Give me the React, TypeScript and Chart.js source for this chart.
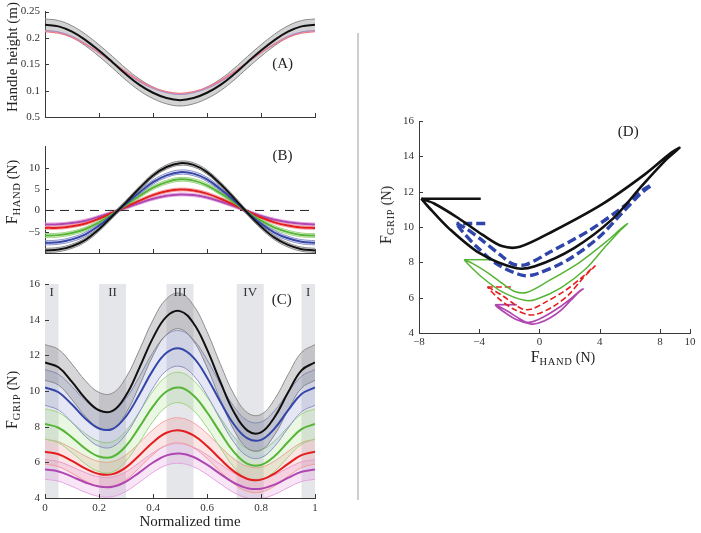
import React, { useEffect, useRef } from 'react';
import { Chart, registerables } from 'chart.js';
Chart.register(...registerables);

const SERIF = '"Liberation Serif", "Times New Roman", serif';

// ---------- shared time axis ----------
const tTime = [0, 0.05, 0.1, 0.15, 0.2, 0.25, 0.3, 0.35, 0.4, 0.45, 0.5, 0.55, 0.6, 0.65, 0.7, 0.75, 0.8, 0.85, 0.9, 0.95, 1];
const timeTicks = [0, 0.2, 0.4, 0.6, 0.8, 1];

// ---------- panel A: handle height (m) ----------
const aBlack = [0.225, 0.222, 0.212, 0.196, 0.176, 0.154, 0.131, 0.111, 0.096, 0.086, 0.082, 0.086, 0.096, 0.111, 0.131, 0.154, 0.176, 0.196, 0.212, 0.222, 0.225];
const aPink = [0.212, 0.209, 0.201, 0.188, 0.172, 0.154, 0.136, 0.119, 0.106, 0.098, 0.095, 0.098, 0.106, 0.119, 0.136, 0.154, 0.172, 0.188, 0.201, 0.209, 0.212];
const aPurple = [0.214, 0.211, 0.203, 0.189, 0.172, 0.153, 0.134, 0.117, 0.104, 0.096, 0.093, 0.096, 0.104, 0.117, 0.134, 0.153, 0.172, 0.189, 0.203, 0.211, 0.214];
const aSd = [0.011];
const aYTicks = [0.05, 0.1, 0.15, 0.2, 0.25];
const aYTickLabels = ['0.5', '0.1', '0.15', '0.2', '0.25'];

// ---------- panel B: F_HAND (N) ----------
const bBlack = [-9.4, -9.2, -8.4, -6.9, -4.4, -1.3, 1.9, 5.2, 8.2, 10.2, 11.1, 10.7, 9.0, 6.2, 2.9, -0.6, -3.8, -6.4, -8.1, -9.1, -9.4];
const bBlue = [-7.6, -7.45, -6.8, -5.6, -3.55, -1.05, 1.55, 4.2, 6.65, 8.25, 9.0, 8.65, 7.3, 5.0, 2.35, -0.5, -3.1, -5.2, -6.55, -7.35, -7.6];
const bGreen = [-5.9, -5.8, -5.3, -4.35, -2.8, -0.8, 1.25, 3.4, 5.35, 6.65, 7.3, 7.0, 5.9, 4.05, 1.9, -0.4, -2.4, -4.05, -5.1, -5.75, -5.9];
const bRed = [-4.1, -4.05, -3.7, -3.05, -1.95, -0.55, 0.85, 2.3, 3.6, 4.5, 4.9, 4.7, 3.95, 2.75, 1.3, -0.25, -1.65, -2.8, -3.55, -4.0, -4.1];
const bPurple = [-3.3, -3.25, -2.95, -2.4, -1.5, -0.45, 0.65, 1.75, 2.75, 3.45, 3.75, 3.6, 3.05, 2.1, 1.0, -0.2, -1.3, -2.2, -2.8, -3.15, -3.3];
const bSd = [0.5, 0.5, 0.45, 0.35, 0.35];
const bYTicks = [-5, 0, 5, 10];
const bZero = [0, 0];

// ---------- panel C: F_GRIP (N) ----------
const cBlack = [11.6, 11.33, 10.51, 9.57, 8.92, 8.88, 9.76, 11.31, 12.98, 14.17, 14.48, 13.8, 12.33, 10.49, 8.81, 7.78, 7.68, 8.53, 9.91, 11.16, 11.6];
const cBlue = [10.2, 9.93, 9.24, 8.45, 7.9, 7.87, 8.58, 9.82, 11.17, 12.14, 12.38, 11.87, 10.76, 9.38, 8.12, 7.34, 7.26, 7.89, 8.91, 9.83, 10.2];
const cGreen = [8.15, 7.94, 7.39, 6.76, 6.33, 6.31, 6.92, 7.99, 9.14, 9.97, 10.19, 9.75, 8.81, 7.65, 6.57, 5.91, 5.85, 6.34, 7.14, 7.86, 8.15];
const cRed = [6.6, 6.45, 6.08, 5.65, 5.35, 5.34, 5.72, 6.4, 7.13, 7.66, 7.79, 7.51, 6.92, 6.17, 5.49, 5.07, 5.03, 5.37, 5.91, 6.4, 6.6];
const cPurple = [5.6, 5.49, 5.2, 4.87, 4.64, 4.63, 4.92, 5.44, 5.99, 6.39, 6.49, 6.3, 5.87, 5.34, 4.85, 4.55, 4.52, 4.75, 5.13, 5.47, 5.6];
const cSd = [1.0, 1.0, 0.85, 0.7, 0.55];
const cYTicks = [4, 6, 8, 10, 12, 14, 16];
const phaseStart = [0, 0.2, 0.45, 0.71, 0.95];
const phaseEnd = [0.05, 0.3, 0.55, 0.81, 1];
const phaseLabels = ['I', 'II', 'III', 'IV', 'I'];

// ---------- panel D: F_GRIP vs F_HAND ----------
const dBlackX = [-7.85, -7.0, -5.4, -3.8, -2.5, -1.3, 0.9, 4.2, 7.0, 8.7, 9.3, 8.4, 6.8, 4.9, 2.3, -0.3, -1.6, -4.0, -6.0, -7.4, -7.85];
const dBlueX = [-5.5, -4.9, -3.8, -2.65, -1.75, -0.9, 0.7, 3.35, 5.6, 6.95, 7.45, 6.7, 5.45, 3.9, 1.85, -0.2, -1.1, -2.8, -4.2, -5.2, -5.5];
const dGreenX = [-5.0, -4.45, -3.4, -2.4, -1.6, -0.8, 0.55, 2.65, 4.4, 5.5, 5.85, 5.3, 4.3, 3.1, 1.45, -0.2, -1.0, -2.5, -3.8, -4.7, -5.0];
const dRedX = [-3.45, -3.1, -2.4, -1.7, -1.1, -0.55, 0.35, 1.7, 2.8, 3.5, 3.7, 3.35, 2.7, 1.95, 0.9, -0.15, -0.7, -1.75, -2.65, -3.25, -3.45];
const dPurpleX = [-2.95, -2.65, -2.05, -1.45, -0.95, -0.5, 0.3, 1.3, 2.15, 2.7, 2.9, 2.6, 2.1, 1.5, 0.7, -0.1, -0.6, -1.5, -2.25, -2.8, -2.95];
const dStartX = [-3.9, -3.6, -3.1, -1.9, -1.5];
const dXTicks = [-8, -4, 0, 4, 8, 10];
const dYTicks = [4, 6, 8, 10, 12, 14, 16];

// ---------- styles ----------
const COL = { black: '#111111', blue: '#3446a8', green: '#56b536', red: '#e41e1e', purple: '#b046b2' };
const BAND = {
  black: ['rgba(120,120,125,0.30)', '#8c8c8c'],
  blue: ['rgba(110,120,200,0.18)', '#8d94c6'],
  green: ['rgba(140,210,100,0.18)', '#a0d386'],
  red: ['rgba(240,110,110,0.18)', '#f2a2a2'],
  purple: ['rgba(225,140,220,0.22)', '#e4a8e1'],
};

type Pt = { x: number; y: number };
const pts = (xs: number[], ys: number[]): Pt[] => xs.map((x, i) => ({ x, y: ys[i] }));
const fmt = (v: number) => (v < 0 ? '\u2212' + Math.abs(v) : String(v));

function line(data: Pt[], color: string, width: number, extra: any = {}) {
  return { data, borderColor: color, borderWidth: width, pointRadius: 0, tension: 0.4, fill: false, ...extra };
}
function band(mean: number[], sd: number, fillColor: string, edge: string) {
  return [
    { data: pts(tTime, mean.map((v) => v + sd)), borderColor: edge, borderWidth: 1, pointRadius: 0, tension: 0.4, fill: '+1', backgroundColor: fillColor },
    { data: pts(tTime, mean.map((v) => v - sd)), borderColor: edge, borderWidth: 1, pointRadius: 0, tension: 0.4, fill: false },
  ];
}

function axis(min: number, max: number, ticks: number[], o: any) {
  return {
    type: 'linear',
    min,
    max,
    afterBuildTicks: (s: any) => {
      s.ticks = ticks.map((v) => ({ value: v }));
    },
    afterFit: (s: any) => {
      if (o.width != null) s.width = o.width;
      if (o.height != null) s.height = o.height;
    },
    grid: { display: false, drawTicks: false },
    border: { display: true, color: '#3a3a3a', width: 1 },
    ticks: {
      display: o.labels !== false,
      autoSkip: false,
      maxRotation: 0,
      padding: o.pad ?? 5,
      color: '#333',
      font: { family: SERIF, size: 11 },
      callback: o.cb ?? ((v: number) => fmt(v)),
    },
  };
}

const insideTicks = {
  id: 'insideTicks',
  afterDatasetsDraw(chart: any) {
    const { ctx, chartArea: a } = chart;
    const xs = chart.scales.x;
    const ys = chart.scales.y;
    ctx.save();
    ctx.strokeStyle = '#3a3a3a';
    ctx.lineWidth = 1;
    ctx.beginPath();
    xs.ticks.forEach((tk: any) => {
      const px = Math.round(xs.getPixelForValue(tk.value)) + 0.5;
      ctx.moveTo(px, a.bottom);
      ctx.lineTo(px, a.bottom - 4);
    });
    ys.ticks.forEach((tk: any) => {
      const py = Math.round(ys.getPixelForValue(tk.value)) + 0.5;
      ctx.moveTo(a.left, py);
      ctx.lineTo(a.left + 4, py);
    });
    ctx.stroke();
    ctx.restore();
  },
};

function textPlugin(items: { x: number; y: number; text: string; size: number }[]) {
  return {
    id: 'panelText',
    afterDatasetsDraw(chart: any) {
      const { ctx } = chart;
      const xs = chart.scales.x;
      const ys = chart.scales.y;
      ctx.save();
      ctx.fillStyle = '#222';
      ctx.textAlign = 'center';
      ctx.textBaseline = 'middle';
      items.forEach((it) => {
        ctx.font = `${it.size}px ${SERIF}`;
        ctx.fillText(it.text, xs.getPixelForValue(it.x), ys.getPixelForValue(it.y));
      });
      ctx.restore();
    },
  };
}

const phasePlugin = {
  id: 'phases',
  beforeDatasetsDraw(chart: any) {
    const { ctx, chartArea: a } = chart;
    const xs = chart.scales.x;
    ctx.save();
    ctx.fillStyle = '#e5e6e9';
    phaseStart.forEach((s, i) => {
      const x0 = xs.getPixelForValue(s);
      const x1 = xs.getPixelForValue(phaseEnd[i]);
      ctx.fillRect(x0, a.top, x1 - x0, a.bottom - a.top);
    });
    ctx.restore();
  },
  afterDatasetsDraw(chart: any) {
    const { ctx } = chart;
    const xs = chart.scales.x;
    const ys = chart.scales.y;
    ctx.save();
    ctx.fillStyle = '#333';
    ctx.textAlign = 'center';
    ctx.textBaseline = 'middle';
    ctx.font = `13px ${SERIF}`;
    phaseLabels.forEach((lb, i) => {
      ctx.fillText(lb, xs.getPixelForValue((phaseStart[i] + phaseEnd[i]) / 2), ys.getPixelForValue(15.5));
    });
    ctx.restore();
  },
};

function opts(pad: any, x: any, y: any) {
  return {
    responsive: false,
    animation: false,
    devicePixelRatio: 1,
    layout: { padding: { left: 0, bottom: 0, ...pad } },
    plugins: { legend: { display: false }, tooltip: { enabled: false } },
    scales: { x, y },
  };
}

function configA() {
  return {
    type: 'line',
    data: {
      datasets: [
        line(pts(tTime, aBlack), COL.black, 2),
        line(pts(tTime, aPink), '#f07a8a', 1.3),
        line(pts(tTime, aPurple), '#a98fd0', 1.1),
        ...band(aBlack, aSd[0], 'rgba(130,130,130,0.35)', '#8a8a8a'),
      ],
    },
    options: opts(
      { top: 11, right: 15 },
      axis(0, 1, timeTicks, { height: 18, labels: false }),
      axis(0.05, 0.25, aYTicks, { width: 45, cb: (_v: number, i: number) => aYTickLabels[i] })
    ),
    plugins: [insideTicks, textPlugin([{ x: 0.88, y: 0.151, text: '(A)', size: 15 }])],
  };
}

function configB() {
  const series: [number[], string, keyof typeof BAND][] = [
    [bBlack, COL.black, 'black'],
    [bBlue, COL.blue, 'blue'],
    [bGreen, COL.green, 'green'],
    [bRed, COL.red, 'red'],
    [bPurple, COL.purple, 'purple'],
  ];
  const means = series.map(([d, c]) => line(pts(tTime, d), c, 2));
  const bands = series.flatMap(([d, , k], i) => band(d, bSd[i], BAND[k][0], BAND[k][1]));
  return {
    type: 'line',
    data: {
      datasets: [
        ...means,
        line(pts([0, 1], bZero), '#222', 1, { borderDash: [9, 6], tension: 0 }),
        ...bands,
      ],
    },
    options: opts(
      { top: 10, right: 15 },
      axis(0, 1, timeTicks, { height: 12, labels: false }),
      axis(-10, 15, bYTicks, { width: 45 })
    ),
    plugins: [insideTicks, textPlugin([{ x: 0.88, y: 12.7, text: '(B)', size: 15 }])],
  };
}

function configC() {
  const series: [number[], string, keyof typeof BAND][] = [
    [cBlack, COL.black, 'black'],
    [cBlue, COL.blue, 'blue'],
    [cGreen, COL.green, 'green'],
    [cRed, COL.red, 'red'],
    [cPurple, COL.purple, 'purple'],
  ];
  const means = series.map(([d, c]) => line(pts(tTime, d), c, 2));
  const bands = series.flatMap(([d, , k], i) => band(d, cSd[i], BAND[k][0], BAND[k][1]));
  return {
    type: 'line',
    data: { datasets: [...means, ...bands] },
    options: opts(
      { top: 19, right: 15 },
      axis(0, 1, timeTicks, { height: 35, pad: 4 }),
      axis(4, 16, cYTicks, { width: 45 })
    ),
    plugins: [phasePlugin, insideTicks, textPlugin([{ x: 0.877, y: 15.1, text: '(C)', size: 15 }])],
  };
}

function configD() {
  const loops: [number[], number[], string, number, any][] = [
    [dBlackX, cBlack, COL.black, 2.6, {}],
    [dBlueX, cBlue, '#2f45aa', 3.4, { borderDash: [9, 4] }],
    [dGreenX, cGreen, COL.green, 1.5, {}],
    [dRedX, cRed, COL.red, 1.6, { borderDash: [6, 3] }],
    [dPurpleX, cPurple, COL.purple, 1.7, {}],
  ];
  const loopSets = loops.map(([xs, ys, c, w, ex]) => line(pts(xs, ys), c, w, { tension: 0.3, ...ex }));
  const startSets = loops.map(([xs, ys, c, w, ex], i) =>
    line(pts([dStartX[i], xs[0]], [ys[0], ys[0]]), c, w, { tension: 0, ...ex })
  );
  return {
    type: 'line',
    data: { datasets: [...loopSets, ...startSets] },
    options: opts(
      { top: 21, right: 11 },
      axis(-8, 10, dXTicks, { height: 17, pad: 3 }),
      axis(4, 16, dYTicks, { width: 59 })
    ),
    plugins: [insideTicks, textPlugin([{ x: 5.9, y: 15.4, text: '(D)', size: 15 }])],
  };
}

function ChartCanvas({ left, top, width, height, make }: any) {
  const ref = useRef<HTMLCanvasElement | null>(null);
  useEffect(() => {
    const chart = new Chart(ref.current as HTMLCanvasElement, make() as any);
    return () => chart.destroy();
  }, []);
  return <canvas ref={ref} width={width} height={height} style={{ position: 'absolute', left, top, width, height }} />;
}

function SubLabel({ sub, cx, cy, rotate }: { sub: string; cx: number; cy: number; rotate: boolean }) {
  return (
    <div
      style={{
        position: 'absolute',
        left: cx,
        top: cy,
        transform: `translate(-50%, -50%)${rotate ? ' rotate(-90deg)' : ''}`,
        whiteSpace: 'nowrap',
        fontFamily: SERIF,
        color: '#222',
        lineHeight: 1,
      }}
    >
      <span style={{ fontSize: 16 }}>F</span>
      <span style={{ fontSize: 10.5, letterSpacing: 0.6, position: 'relative', top: 3 }}>{sub}</span>
      <span style={{ fontSize: 14 }}> (N)</span>
    </div>
  );
}

export default function App() {
  return (
    <div style={{ position: 'absolute', left: 0, top: 0, width: 701, height: 533, background: '#fff', overflow: 'hidden', fontFamily: SERIF }}>
      <ChartCanvas left={0} top={0} width={330} height={135} make={configA} />
      <ChartCanvas left={0} top={135} width={330} height={130} make={configB} />
      <ChartCanvas left={0} top={265} width={330} height={268} make={configC} />
      <ChartCanvas left={360} top={100} width={341} height={250} make={configD} />
      <div style={{ position: 'absolute', left: 357, top: 33, width: 2, height: 467, background: '#cfcfcf' }} />
      <div
        style={{
          position: 'absolute',
          left: 12,
          top: 57,
          transform: 'translate(-50%, -50%) rotate(-90deg)',
          whiteSpace: 'nowrap',
          fontSize: 15,
          color: '#222',
          lineHeight: 1,
        }}
      >
        Handle height (m)
      </div>
      <SubLabel sub="HAND" cx={12} cy={192} rotate />
      <SubLabel sub="GRIP" cx={12} cy={400} rotate />
      <SubLabel sub="GRIP" cx={386} cy={215} rotate />
      <SubLabel sub="HAND" cx={563} cy={357} rotate={false} />
      <div
        style={{
          position: 'absolute',
          left: 190,
          top: 521,
          transform: 'translate(-50%, -50%)',
          whiteSpace: 'nowrap',
          fontSize: 15,
          color: '#222',
          lineHeight: 1,
        }}
      >
        Normalized time
      </div>
    </div>
  );
}
